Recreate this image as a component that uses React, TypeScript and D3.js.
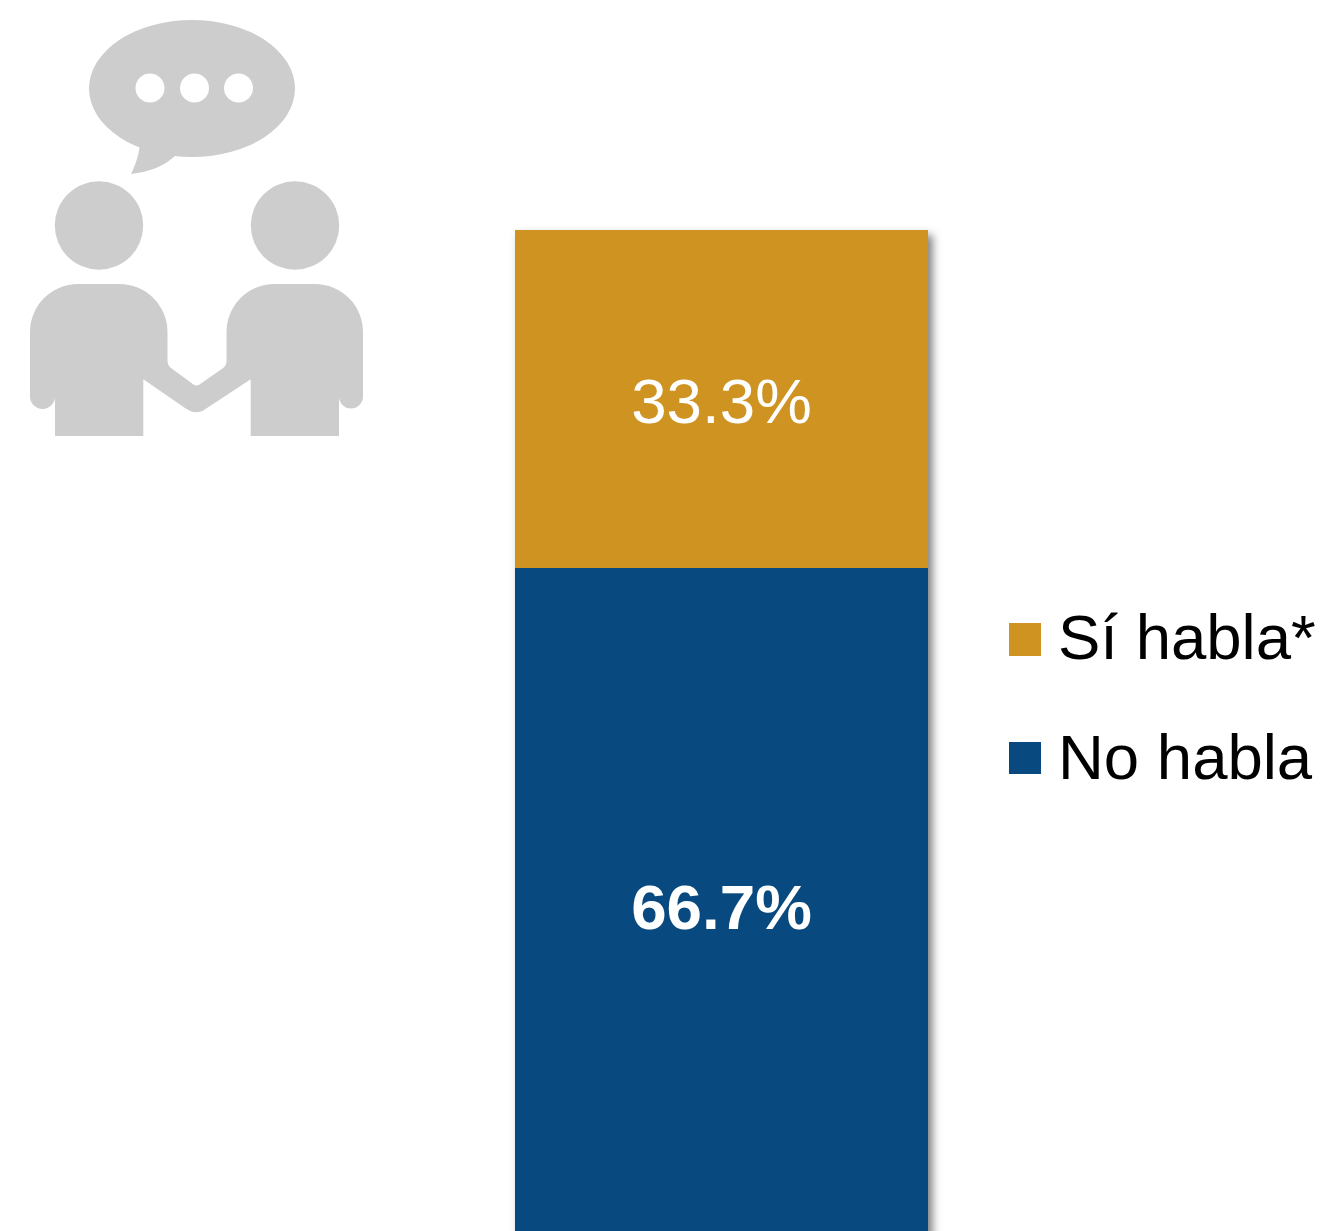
import React from "react";
import * as d3 from "d3";

const categories = ["No habla", "Sí habla*"];
const values = [66.7, 33.3];
const colors = ["#084a7f", "#ce9321"];
const legendLabels = ["Sí habla*", "No habla"];
const legendColors = ["#ce9321", "#084a7f"];
const labelWeights = [700, 400];

const WIDTH = 1321;
const HEIGHT = 1231;
const FONT = "'Liberation Sans', Arial, sans-serif";
const ICON = "#cdcdcd";

const y = d3.scaleLinear().domain([0, 100]).range([1245, 230]);
const x = d3.scaleBand().domain(["total"]).range([515, 928]);

const stackData = [Object.fromEntries(categories.map((c, i) => [c, values[i]]))];
const series = d3.stack().keys(categories)(stackData as any);

const tailPath = "M140 140 C140 152 136 164 131 174 C148 172 163 167 175 156 L175 140 Z";
const bodiesPath = "M55 436 V396.5 A12.5 12.5 0 0 1 30 396.5 V332 A48 48 0 0 1 78 284 H119 A48 48 0 0 1 167.5 332 V361 Q167.5 365 171 368 L193.5 384.5 Q196.5 386.5 199.5 384.5 L222.5 368.5 Q226.5 365.5 226.5 361 V332 A48 48 0 0 1 274 284 H315 A48 48 0 0 1 363 332 V396.5 A12 12 0 0 1 339 396.5 V436 H250.7 V379.3 L207 408 Q196.5 416.5 185 408 L143.3 379.3 V436 Z";
const heads = [99, 295];
const dots = [150, 194.5, 238.5];

export default function App() {
  return (
    <svg
      width={WIDTH}
      height={HEIGHT}
      viewBox={`0 0 ${WIDTH} ${HEIGHT}`}
      style={{ position: "absolute", left: 0, top: 0, display: "block", background: "#fff" }}
    >
      <defs>
        <filter id="barShadow" x="-10%" y="-10%" width="120%" height="120%" colorInterpolationFilters="sRGB">
          <feDropShadow dx="4.5" dy="5" stdDeviation="4" floodColor="#000" floodOpacity="0.5" />
        </filter>
      </defs>

      <g fill={ICON}>
        <ellipse cx={192} cy={88.5} rx={103} ry={68.5} />
        <path d={tailPath} />
        {dots.map((cx) => (
          <circle key={cx} cx={cx} cy={88} r={14.5} fill="#fff" />
        ))}
        {heads.map((cx) => (
          <circle key={cx} cx={cx} cy={225.5} r={44.2} />
        ))}
        <path d={bodiesPath} />
      </g>

      <g filter="url(#barShadow)">
        {series.map((s, i) => (
          <rect
            key={s.key}
            x={x("total")}
            width={x.bandwidth()}
            y={y(s[0][1])}
            height={y(s[0][0]) - y(s[0][1])}
            fill={colors[i]}
          />
        ))}
      </g>

      {series.map((s, i) => (
        <text
          key={s.key}
          x={721.5}
          y={i === 0 ? 929 : 423}
          textAnchor="middle"
          fontFamily={FONT}
          fontSize={63.7}
          fontWeight={labelWeights[i]}
          fill="#fff"
        >
          {`${values[i].toFixed(1)}%`}
        </text>
      ))}

      {legendLabels.map((label, i) => (
        <g key={label}>
          <rect x={1009} y={i === 0 ? 623 : 742} width={32} height={i === 0 ? 33 : 32} fill={legendColors[i]} />
          <text x={1058} y={i === 0 ? 659 : 779} fontFamily={FONT} fontSize={63.5} fill="#000">
            {label}
          </text>
        </g>
      ))}
    </svg>
  );
}
